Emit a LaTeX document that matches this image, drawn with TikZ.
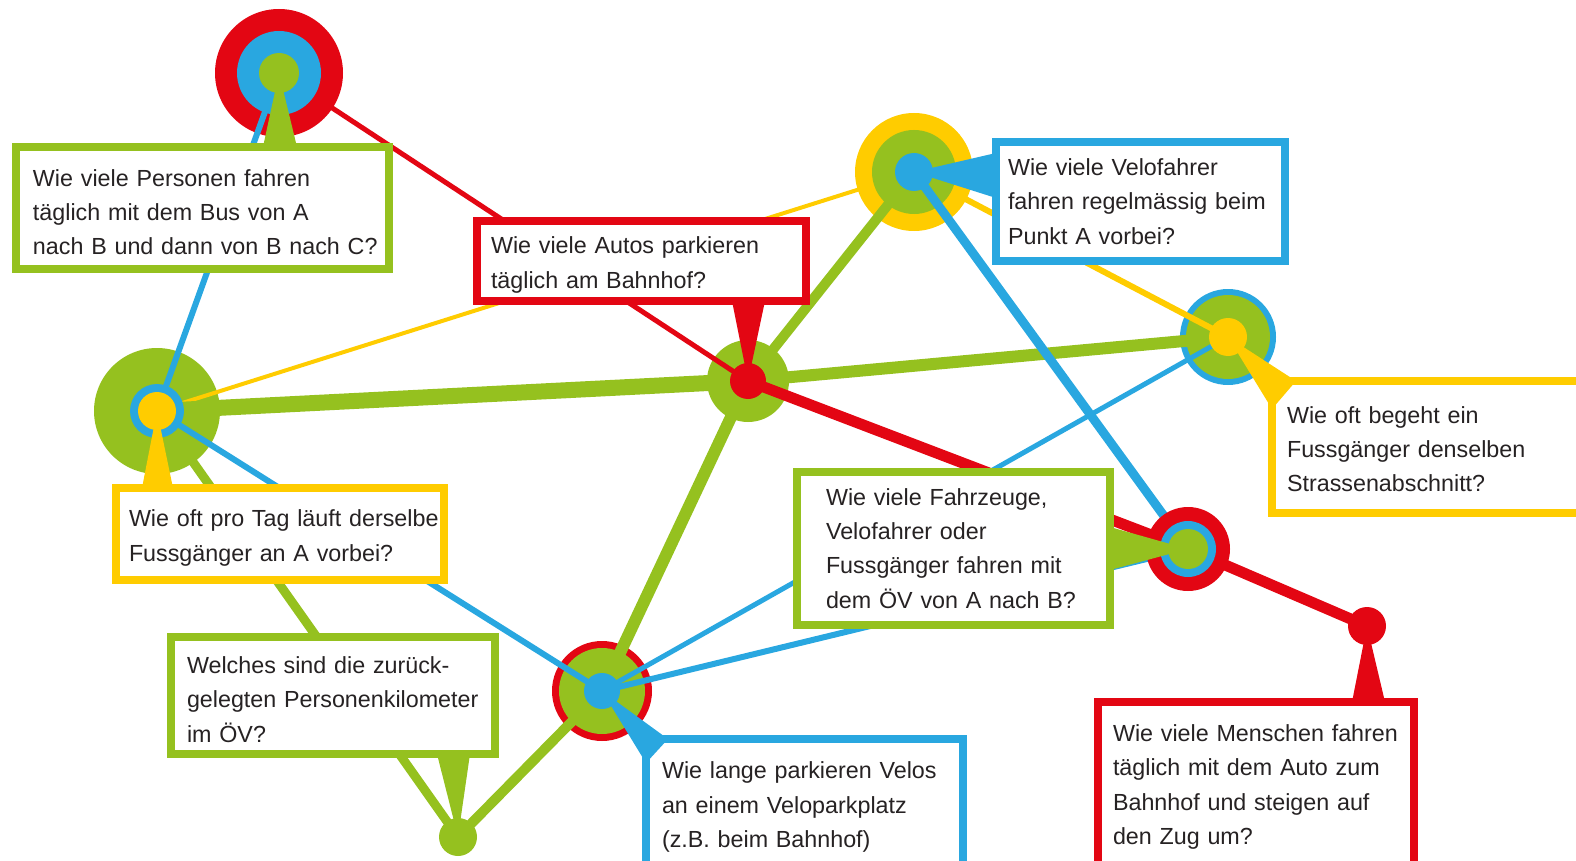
\documentclass[tikz,border=0pt]{standalone}
\usepackage{fontspec}
\setmainfont{Liberation Sans}
\usetikzlibrary{calc}

\definecolor{netred}{RGB}{227,6,19}
\definecolor{netblue}{RGB}{41,167,224}
\definecolor{netgreen}{RGB}{149,193,31}
\definecolor{netyellow}{RGB}{255,204,0}
\definecolor{ink}{RGB}{38,34,35}

\tikzset{
  qbox/.style={rectangle, draw=#1, line width=8pt, fill=white, anchor=north west,
    outer sep=0pt, inner xsep=0pt, inner ysep=0pt, align=left, text=ink,
    font=\fontsize{23.3pt}{34.3pt}\selectfont},
  qpad/.style={execute at begin node={\leftskip=#1pt\hyphenpenalty=10000\relax}},
}

\begin{document}
\begin{tikzpicture}[x=1pt,y=-1pt]
\useasboundingbox (0,0) rectangle (1576,861);
\clip (0,0) rectangle (1576,861);

% stops
\coordinate (bus) at (279,73);
\coordinate (walk) at (157,411);
\coordinate (park) at (748,381);
\coordinate (velo) at (914,172);
\coordinate (street) at (1228,337);
\coordinate (oev) at (1188,549);
\coordinate (car) at (1367,626);
\coordinate (bike) at (602,691);
\coordinate (pkm) at (458,837);

% outer rings
\fill[netred] (bus) circle (64pt);
\fill[netgreen] (walk) circle (63pt);
\fill[netgreen] (park) circle (41pt);
\fill[netyellow] (velo) circle (59pt);
\fill[netblue] (street) circle (48pt);
\fill[netgreen] (street) circle (42pt);
\fill[netred] (bike) circle (50pt);
\fill[netgreen] (bike) circle (43pt);

% yellow links
\draw[netyellow, line width=4pt] (walk) -- (velo);
\draw[netyellow, line width=6pt] (velo) -- (street);
\fill[netgreen] (velo) circle (42pt);

% green links
\draw[netgreen, line width=16pt] (walk) -- (park);
\draw[netgreen, line width=12pt] (park) -- (street);
\draw[netgreen, line width=10pt] (park) -- (velo);
\draw[netgreen, line width=12pt] (park) -- (bike);
\draw[netgreen, line width=10pt] (bike) -- (pkm);
\draw[netgreen, line width=9pt] (walk) -- (pkm);

% red links
\draw[netred, line width=5pt] (bus) -- (park);
\draw[netred, line width=11pt] (park) -- (oev);
\draw[netred, line width=11pt] (oev) -- (car);

% blue links
\draw[netblue, line width=6pt] (bus) -- (walk);
\draw[netblue, line width=6pt] (walk) -- (bike);
\draw[netblue, line width=9pt] (velo) -- (oev);
\draw[netblue, line width=5pt] (street) -- (bike);
\draw[netblue, line width=6pt] (oev) -- (bike);

% inner rings
\fill[netblue] (bus) circle (42pt);
\fill[netgreen] (bus) circle (20pt);
\fill[netblue] (walk) circle (27pt);
\fill[netyellow] (walk) circle (19pt);
\fill[netred] (park) circle (18pt);
\fill[netblue] (velo) circle (19pt);
\fill[netyellow] (street) circle (19pt);
\fill[netred] (oev) circle (42pt);
\fill[netblue] (oev) circle (28pt);
\fill[netgreen] (oev) circle (20pt);
\fill[netred] (car) circle (19pt);
\fill[netblue] (bike) circle (18pt);
\fill[netgreen] (pkm) circle (19pt);

% questions
\node[qbox=netgreen, qpad=17, text width=373pt, text height=25pt, minimum height=122pt] (qbus) at (16,147)
  {Wie viele Personen fahren\\täglich mit dem Bus von A\\nach B und dann von B nach C?};
\node[qbox=netred, qpad=14, text width=329pt, text height=25pt, minimum height=80pt] (qpark) at (477,221)
  {Wie viele Autos parkieren\\täglich am Bahnhof?};
\node[qbox=netblue, qpad=12, text width=289pt, minimum height=119pt] (qvelo) at (996,142)
  {Wie viele Velofahrer\\fahren regelmässig beim\\Punkt A vorbei?};
\node[qbox=netyellow, qpad=15, text width=324pt, text height=21pt, minimum height=132pt] (qstreet) at (1272,381)
  {Wie oft begeht ein\\Fussgänger denselben\\Strassenabschnitt?};
\node[qbox=netyellow, qpad=13, text width=328pt, text height=25pt, minimum height=92pt] (qwalk) at (116,488)
  {Wie oft pro Tag läuft derselbe\\Fussgänger an A vorbei?};
\node[qbox=netgreen, qpad=29, text width=313pt, minimum height=153pt] (qoev) at (797,472)
  {Wie viele Fahrzeuge,\\Velofahrer oder\\Fussgänger fahren mit\\dem ÖV von A nach B?};
\node[qbox=netgreen, qpad=16, text width=324pt, text height=25pt, minimum height=117pt] (qpkm) at (171,637)
  {Welches sind die zurück-\\gelegten Personenkilometer\\im ÖV?};
\node[qbox=netblue, qpad=16, text width=317pt, minimum height=136pt] (qbike) at (646,739)
  {Wie lange parkieren Velos\\an einem Veloparkplatz\\(z.B. beim Bahnhof)};
\node[qbox=netred, qpad=15, text width=316pt, minimum height=170pt] (qcar) at (1098,702)
  {Wie viele Menschen fahren\\täglich mit dem Auto zum\\Bahnhof und steigen auf\\den Zug um?};

% pointers
\fill[netgreen] (bus) -- ($(qbus.north west)+(247,0)$) -- ($(qbus.north west)+(281,0)$) -- cycle;
\fill[netred] (park) -- ($(qpark.south west)+(255,0)$) -- ($(qpark.south west)+(288,0)$) -- cycle;
\fill[netblue] (velo) -- ($(qvelo.north west)+(0,11)$) -- ($(qvelo.north west)+(0,56)$) -- cycle;
\fill[netyellow] (street) -- ($(qstreet.north west)+(0,28)$) -- ($(qstreet.north west)+(24,0)$) -- cycle;
\fill[netyellow] (walk) -- ($(qwalk.north west)+(26,0)$) -- ($(qwalk.north west)+(57,0)$) -- cycle;
\fill[netgreen] (oev) -- ($(qoev.north east)+(0,55)$) -- ($(qoev.north east)+(0,98)$) -- cycle;
\fill[netgreen] (pkm) -- ($(qpkm.south west)+(266,0)$) -- ($(qpkm.south west)+(299,0)$) -- cycle;
\fill[netblue] (bike) -- ($(qbike.north west)+(0,24)$) -- ($(qbike.north west)+(22,0)$) -- cycle;
\fill[netred] (car) -- ($(qcar.north west)+(254,0)$) -- ($(qcar.north west)+(287,0)$) -- cycle;
\end{tikzpicture}
\end{document}
